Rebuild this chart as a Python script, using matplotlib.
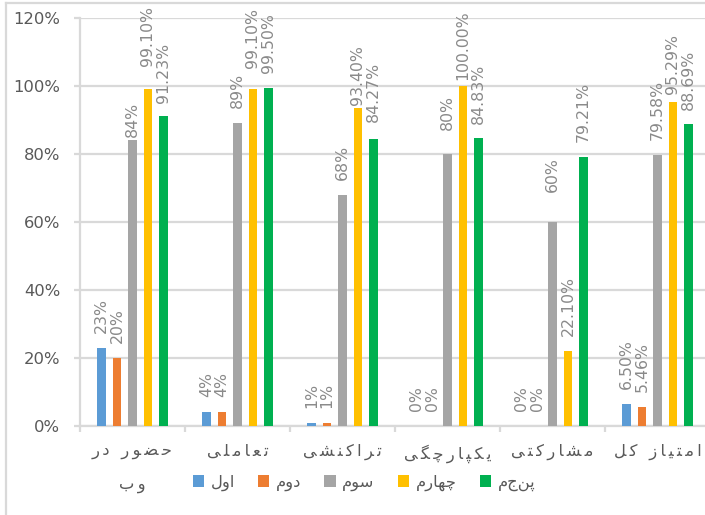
import matplotlib
matplotlib.use('Agg')
import matplotlib.pyplot as plt
from matplotlib.patches import Patch
from matplotlib.lines import Line2D

# Data
categories = ['حضور در\nوب', 'تعاملی', 'تراکنشی', 'یکپارچگی', 'مشارکتی', 'امتیاز کل']
series_names = ['اول', 'دوم', 'سوم', 'چهارم', 'پنجم']
first = [23, 4, 1, 0, 0, 6.50]
second = [20, 4, 1, 0, 0, 5.46]
third = [84, 89, 68, 80, 60, 79.58]
fourth = [99.10, 99.10, 93.40, 100.00, 22.10, 95.29]
fifth = [91.23, 99.50, 84.27, 84.83, 79.21, 88.69]
first_labels = ['23%', '4%', '1%', '0%', '0%', '6.50%']
second_labels = ['20%', '4%', '1%', '0%', '0%', '5.46%']
third_labels = ['84%', '89%', '68%', '80%', '60%', '79.58%']
fourth_labels = ['99.10%', '99.10%', '93.40%', '100.00%', '22.10%', '95.29%']
fifth_labels = ['91.23%', '99.50%', '84.27%', '84.83%', '79.21%', '88.69%']
y_ticks = [0, 20, 40, 60, 80, 100, 120]

colors = ['#5B9BD5', '#ED7D31', '#A5A5A5', '#FFC000', '#00B050']
grid_color = '#d9d9d9'
text_color = '#595959'
label_color = '#8a8a8a'

# gap (pixels) between bar top and its label; a few labels sit higher/lower
label_gap = 15
gap_override = {(2, 0): 3, (3, 0): 23, (4, 0): 13, (3, 1): 21, (3, 2): 3,
                (4, 2): 17, (2, 3): 24, (3, 3): 6, (4, 3): 14, (2, 4): 30,
                (3, 5): 8, (4, 5): 14}

# Arabic/Persian contextual forms: isolated, final, initial, medial
FORMS = {
    'ا': ('\uFE8D', '\uFE8E', None, None),
    'ب': ('\uFE8F', '\uFE90', '\uFE91', '\uFE92'),
    'پ': ('\uFB56', '\uFB57', '\uFB58', '\uFB59'),
    'ت': ('\uFE95', '\uFE96', '\uFE97', '\uFE98'),
    'چ': ('\uFB7A', '\uFB7B', '\uFB7C', '\uFB7D'),
    'ح': ('\uFEA1', '\uFEA2', '\uFEA3', '\uFEA4'),
    'د': ('\uFEA9', '\uFEAA', None, None),
    'ر': ('\uFEAD', '\uFEAE', None, None),
    'ز': ('\uFEAF', '\uFEB0', None, None),
    'س': ('\uFEB1', '\uFEB2', '\uFEB3', '\uFEB4'),
    'ش': ('\uFEB5', '\uFEB6', '\uFEB7', '\uFEB8'),
    'ض': ('\uFEBD', '\uFEBE', '\uFEBF', '\uFEC0'),
    'ع': ('\uFEC9', '\uFECA', '\uFECB', '\uFECC'),
    'ک': ('\uFB8E', '\uFB8F', '\uFB90', '\uFB91'),
    'گ': ('\uFB92', '\uFB93', '\uFB94', '\uFB95'),
    'ل': ('\uFEDD', '\uFEDE', '\uFEDF', '\uFEE0'),
    'م': ('\uFEE1', '\uFEE2', '\uFEE3', '\uFEE4'),
    'ن': ('\uFEE5', '\uFEE6', '\uFEE7', '\uFEE8'),
    'ه': ('\uFEE9', '\uFEEA', '\uFEEB', '\uFEEC'),
    'و': ('\uFEED', '\uFEEE', None, None),
    'ی': ('\uFBFC', '\uFBFD', '\uFBFE', '\uFBFF'),
}


def shape_line(line, sep='\u2009'):
    """Pick contextual forms and put the line in visual (right-to-left) order"""
    out = []
    for i, ch in enumerate(line):
        f = FORMS.get(ch)
        if f is None:
            out.append(ch)
            continue
        prev = line[i - 1] if i > 0 else ''
        nxt = line[i + 1] if i < len(line) - 1 else ''
        join_prev = prev in FORMS and FORMS[prev][2] is not None
        join_next = nxt in FORMS and f[2] is not None
        if join_prev and join_next:
            out.append(f[3])
        elif join_prev:
            out.append(f[1])
        elif join_next:
            out.append(f[2])
        else:
            out.append(f[0])
    return sep.join(reversed(out))


def fa(text, sep='\u2009'):
    return '\n'.join(shape_line(l, sep) for l in text.split('\n'))


plt.rcParams['font.family'] = ['DejaVu Sans']

fig = plt.figure(figsize=(7.05, 5.15), dpi=100)
ax = fig.add_axes([80 / 705, 89 / 515, 630 / 705, 408 / 515])

series = [first, second, third, fourth, fifth]
series_labels = [first_labels, second_labels, third_labels, fourth_labels, fifth_labels]
x = list(range(len(categories)))
step = 0.147
width = 0.08

for s, (vals, labs) in enumerate(zip(series, series_labels)):
    xs = [xi + (s - 2) * step for xi in x]
    ax.bar(xs, vals, width=width, color=colors[s], zorder=3)
    for c, (xv, v, lab) in enumerate(zip(xs, vals, labs)):
        gap = gap_override.get((s, c), label_gap)
        ax.annotate(lab, (xv, v), xytext=(0, gap), textcoords='offset pixels',
                    rotation=90, ha='center', va='bottom', fontsize=11.3,
                    color=label_color, annotation_clip=False)

ax.set_xlim(-0.5, len(categories) - 0.5)
ax.set_ylim(0, 120)
ax.set_yticks(y_ticks)
ax.set_yticklabels([f'{v}%' for v in y_ticks])
ax.yaxis.grid(True, color=grid_color, linewidth=1.6)
ax.set_axisbelow(True)

for side in ['top', 'right']:
    ax.spines[side].set_visible(False)
for side in ['left', 'bottom']:
    ax.spines[side].set_color(grid_color)
    ax.spines[side].set_linewidth(1.6)

ax.tick_params(axis='y', length=4.3, width=1.6, color=grid_color,
               labelcolor=text_color, labelsize=11.8, pad=10)
ax.set_xticks(x)
ax.set_xticklabels([fa(c) for c in categories])
ax.set_xticks([xi - 0.5 for xi in x] + [len(x) - 0.5], minor=True)
ax.tick_params(axis='x', which='major', length=0, labelcolor=text_color,
               labelsize=11.8, pad=13)
ax.tick_params(axis='x', which='minor', length=4, width=1.6, color=grid_color)
for lbl in ax.get_xticklabels():
    lbl.set_linespacing(2.5)

handles = [Patch(facecolor=colors[i], label=fa(series_names[i], sep='')) for i in range(5)]
fig.legend(handles=handles, loc='center', bbox_to_anchor=(364 / 705, 32 / 515),
           ncol=5, frameon=False, fontsize=11.8, handlelength=0.7,
           handleheight=0.7, handletextpad=0.4, columnspacing=1.4,
           labelcolor=text_color)

# outer chart border (left and top edges are visible in the crop)
fig.add_artist(Line2D([6 / 705, 6 / 705], [0, 1 - 3 / 515], transform=fig.transFigure,
                      color=grid_color, linewidth=1.6))
fig.add_artist(Line2D([6 / 705, 1], [1 - 3 / 515, 1 - 3 / 515], transform=fig.transFigure,
                      color=grid_color, linewidth=1.6))

fig.savefig('out.png', dpi=100)
